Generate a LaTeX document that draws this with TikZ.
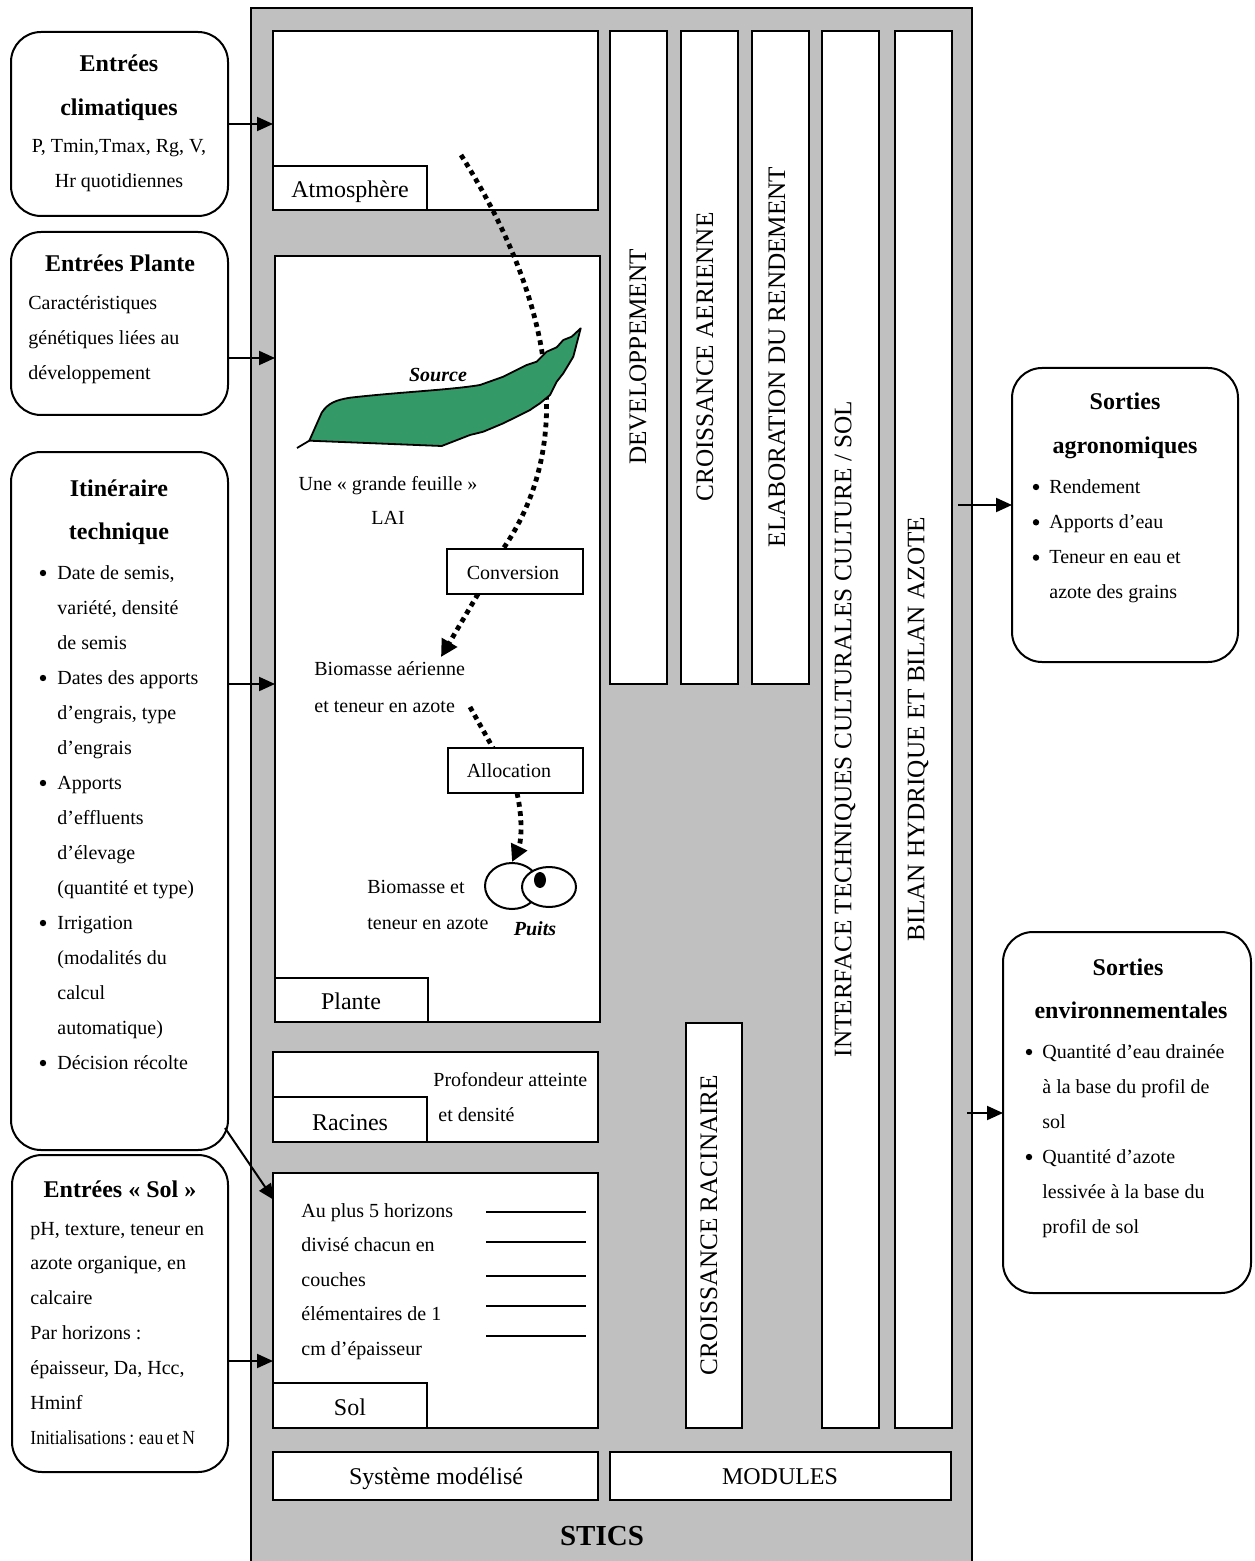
\documentclass[tikz,border=0pt]{standalone}
\usepackage{fontspec}
\setmainfont{Liberation Serif}
\usepackage{graphicx}
\usetikzlibrary{arrows.meta,shapes.geometric}
\definecolor{panelgrey}{RGB}{192,192,192}
\definecolor{leafgreen}{RGB}{51,153,102}
% \mybox[style]{name}{x1}{y1}{x2}{y2}  (pixel coordinates)
\newcommand\mybox[6][box]{%
  \pgfmathsetmacro\myBW{(#5-#3)*0.5}%
  \pgfmathsetmacro\myBH{(#6-#4)*0.5}%
  \node[#1, minimum width=\myBW pt, minimum height=\myBH pt] (#2) at ({(#3+#5)/2},{(#4+#6)/2}) {};}
\begin{document}
\begin{tikzpicture}[x=0.5pt,y=-0.5pt,
  body/.style={font=\fontsize{10}{12}\selectfont, inner sep=0pt},
  lbl/.style={font=\fontsize{12}{14}\selectfont, inner sep=0pt},
  ttl/.style={font=\fontsize{12}{14}\selectfont\bfseries, inner sep=0pt},
  box/.style={draw, line width=1pt, fill=white, inner sep=0pt, outer sep=0pt},
  rbox/.style={box, rounded corners=15pt},
  panel/.style={box, fill=panelgrey},
  eye/.style={draw, ellipse, fill=white, line width=1pt, inner sep=0pt},
  bul/.style={circle, fill=black, inner sep=0pt, minimum size=3.2pt},
  inarrow/.style={line width=1pt, -{Triangle[length=8pt,width=7pt]}},
  dotline/.style={line width=2.4pt, dash pattern=on 2.4pt off 2.2pt},
  dotarrow/.style={dotline, -{Triangle[length=8.5pt,width=8.5pt]}},
  vlbl/.style={font=\fontsize{12.6}{14}\selectfont, inner sep=0pt, rotate=90},
]
\useasboundingbox (0,0) rectangle (1254,1561);

% ---------- STICS panel ----------
\mybox[panel]{panel}{251}{8}{972}{1600}
\mybox{atm}{273}{31}{598}{210}
\mybox{atmlab}{273}{166}{427}{210}
\mybox{plante}{275}{256}{600}{1022}
\mybox{plantelab}{275}{978}{428}{1022}
\mybox{rac}{273}{1052}{598}{1142}
\mybox{raclab}{273}{1097}{427}{1142}
\mybox{sol}{273}{1173}{598}{1428}
\mybox{sollab}{273}{1383}{427}{1428}
\mybox{sysm}{273}{1452}{598}{1500}
\mybox{modules}{610}{1452}{951}{1500}
\mybox{colA}{610}{31}{667}{684}
\mybox{colB}{681}{31}{738}{684}
\mybox{colC}{752}{31}{809}{684}
\mybox{colD}{822}{31}{879}{1428}
\mybox{colE}{895}{31}{952}{1428}
\mybox{colR}{686}{1023}{742}{1428}
\mybox{conv}{447}{549}{583}{594}
\mybox{alloc}{448}{748}{583}{793}

% ---------- outer rounded boxes ----------
\mybox[rbox]{clim}{11}{32}{228}{216}
\mybox[rbox]{entpl}{11}{232}{228}{415}
\mybox[rbox]{itin}{11}{452}{228}{1150}
\mybox[rbox]{entsol}{12}{1155}{228}{1472}
\mybox[rbox]{sagr}{1012}{368}{1238}{662}
\mybox[rbox]{senv}{1003}{932}{1251}{1293}

% ---------- labels in panel ----------
\node[lbl, anchor=base] (tatm) at (350,198) {Atmosphère};
\node[lbl, anchor=base] (tpla) at (351,1009) {Plante};
\node[lbl, anchor=base] (trac) at (350,1130) {Racines};
\node[lbl, anchor=base] (tsol) at (350,1415) {Sol};
\node[lbl, anchor=base] (tsys) at (436,1484) {Système modélisé};
\node[lbl, anchor=base] (tmod) at (780,1484) {MODULES};
\node[font=\fontsize{14.5}{16}\selectfont\bfseries, inner sep=0pt, anchor=base] (tstics) at (602,1545) {STICS};
\node[body, anchor=base] (tconv) at (513,579) {Conversion};
\node[body, anchor=base] (talloc) at (509,777) {Allocation};

\node[vlbl] (vA) at (638,357) {DEVELOPPEMENT};
\node[vlbl] (vB) at (705,357) {CROISSANCE AERIENNE};
\node[vlbl] (vC) at (777,357) {ELABORATION DU RENDEMENT};
\node[vlbl] (vD) at (845,729) {INTERFACE TECHNIQUES CULTURALES CULTURE / SOL};
\node[vlbl] (vE) at (918,729) {BILAN HYDRIQUE ET BILAN AZOTE};
\node[vlbl] (vR) at (709,1225) {CROISSANCE RACINAIRE};

% ---------- plant content ----------
\coordinate (atmS) at (461,155);
\draw[dotline] (atmS) .. controls (540,280) and (585,430) .. ([xshift=-6pt]conv.north);
\draw[fill=leafgreen, line width=0.9pt, line join=round]
  (309.3,440.7) -- (321.7,412.7) .. controls (328,403) and (336,400) .. (350,397.7)
  .. controls (400,392) and (450,390) .. (480,385)
  -- (503.3,376.7) -- (526.7,365) -- (536.7,361.7) -- (546.7,351.7) -- (556.7,347.3)
  -- (563.3,340) -- (571.7,336.7) -- (580.7,328.3) -- (573.3,356.7) -- (563.3,373.3)
  -- (556.7,381.7) -- (550,395) -- (540,403.3) -- (530,410) -- (516.7,416.7)
  -- (503.3,423.3) -- (483.3,431.7) -- (470,435) -- (441.7,446) -- cycle;
\draw[line width=0.9pt] (297,448) -- (309.3,440.7);
\node[body, font=\fontsize{10}{12}\selectfont\bfseries\itshape, anchor=base] (tsrc) at (438,382) {Source};
\node[body, anchor=base] (tuf) at (388,490) {Une « grande feuille »};
\node[body, anchor=base] (tlai) at (388,524) {LAI};

\coordinate (bioTip) at (441,657);
\draw[dotarrow] ([xshift=15.5pt]conv.south west) -- (bioTip);
\node[body, anchor=base west] (bio1) at (314,675) {Biomasse aérienne};
\node[body, anchor=base west] (bio2) at (314,712) {et teneur en azote};
\coordinate (alS) at (470,707);
\draw[dotline] (alS) -- ([xshift=22.5pt]alloc.north west);

\node[eye, minimum width=27pt, minimum height=23pt] (eyeL) at (512,886) {};
\node[eye, minimum width=27pt, minimum height=20pt] (eyeR) at (549,887) {};
\node[ellipse, fill=black, inner sep=0pt, minimum width=6pt, minimum height=8pt] (pupil) at (540,880) {};
\draw[dotarrow] ([xshift=34.5pt]alloc.south west) .. controls (524,825) and (520,845) .. (eyeL.north);
\node[body, anchor=base west] (bs1) at (367,893) {Biomasse et};
\node[body, anchor=base west] (bs2) at (367,929) {teneur en azote};
\node[body, font=\fontsize{10}{12}\selectfont\bfseries\itshape, anchor=base] (tpuits) at (535,935) {Puits};

% ---------- roots and soil ----------
\node[body, anchor=base west] (pr1) at (433,1086) {Profondeur atteinte};
\node[body, anchor=base west] (pr2) at (438,1121) {et densité};
\foreach \t [count=\i from 0] in {Au plus 5 horizons, divisé chacun en, couches, élémentaires de 1, cm d’épaisseur}
  \node[body, anchor=base west] (sl\i) at (301,{1217+34.6*\i}) {\t};
\foreach \yy in {1212,1242,1276,1306,1336}
  \draw[line width=1pt] (486,\yy) -- (586,\yy);

% ---------- left texts ----------
\node[ttl, anchor=base] (c1) at (119,72) {Entrées};
\node[ttl, anchor=base] (c2) at (119,116) {climatiques};
\node[body, anchor=base] (c3) at (119,153) {P, Tmin,Tmax, Rg, V,};
\node[body, anchor=base] (c4) at (119,188) {Hr quotidiennes};

\node[ttl, anchor=base] (p1) at (120,272) {Entrées Plante};
\foreach \t [count=\i from 0] in {Caractéristiques, génétiques liées au, développement}
  \node[body, anchor=base west] (pl\i) at (28,{310+35*\i}) {\t};

\node[ttl, anchor=base] (i1) at (119,496) {Itinéraire};
\node[ttl, anchor=base] (i2) at (119,539) {technique};
\foreach \t [count=\i from 0] in {{Date de semis,}, {variété, densité}, {de semis}, {Dates des apports}, {d’engrais, type}, {d’engrais}, {Apports}, {d’effluents}, {d’élevage}, {(quantité et type)}, {Irrigation}, {(modalités du}, {calcul}, {automatique)}, {Décision récolte}}
  \node[body, anchor=base west] (it\i) at (57,{579+35*\i}) {\t};
\foreach \i in {0,3,6,10,14}
  \node[bul] (itb\i) at (43,{573+35*\i}) {};

\node[ttl, anchor=base] (s1) at (120,1197) {Entrées « Sol »};
\foreach \t [count=\i from 0] in {{pH, texture, teneur en}, {azote organique, en}, {calcaire}, {Par horizons :}, {épaisseur, Da, Hcc,}, {Hminf}}
  \node[body, anchor=base west] (es\i) at (30,{1235+34.8*\i}) {\t};
\node[body, anchor=base west] (es6) at (30,1444) {\scalebox{0.88}[1]{\spaceskip=0.18em Initialisations : eau et N}};

% ---------- right texts ----------
\node[ttl, anchor=base] (a1) at (1125,410) {Sorties};
\node[ttl, anchor=base] (a2) at (1125,453) {agronomiques};
\foreach \t [count=\i from 0] in {Rendement, Apports d’eau, Teneur en eau et, azote des grains}
  \node[body, anchor=base west] (ag\i) at (1049,{493+35.3*\i}) {\t};
\foreach \i in {0,1,2}
  \node[bul] (agb\i) at (1036,{487+35.3*\i}) {};

\node[ttl, anchor=base] (e1) at (1128,975) {Sorties};
\node[ttl, anchor=base] (e2) at (1131,1018) {environnementales};
\foreach \t [count=\i from 0] in {Quantité d’eau drainée, à la base du profil de, sol, Quantité d’azote, lessivée à la base du, profil de sol}
  \node[body, anchor=base west] (en\i) at (1042,{1058+35*\i}) {\t};
\foreach \i in {0,3}
  \node[bul] (enb\i) at (1029,{1052+35*\i}) {};

% ---------- connectors ----------
\coordinate (yP) at (0,358);
\coordinate (yI) at (0,684);
\coordinate (yS) at (0,1361);
\draw[inarrow] (clim.east) -- (clim.east -| atm.west);
\draw[inarrow] (entpl.east |- yP) -- (plante.west |- yP);
\draw[inarrow] (itin.east |- yI) -- (plante.west |- yI);
\draw[inarrow] (entsol.east |- yS) -- (sol.west |- yS);
\coordinate (itc) at (225,1128);
\coordinate (solin) at (274,1200);
\draw[inarrow] (itc) -- (solin);
\coordinate (oA) at (958,505);
\coordinate (oE) at (967,1113);
\draw[inarrow] (oA) -- (sagr.west |- oA);
\draw[inarrow] (oE) -- (senv.west |- oE);
\end{tikzpicture}
\end{document}
